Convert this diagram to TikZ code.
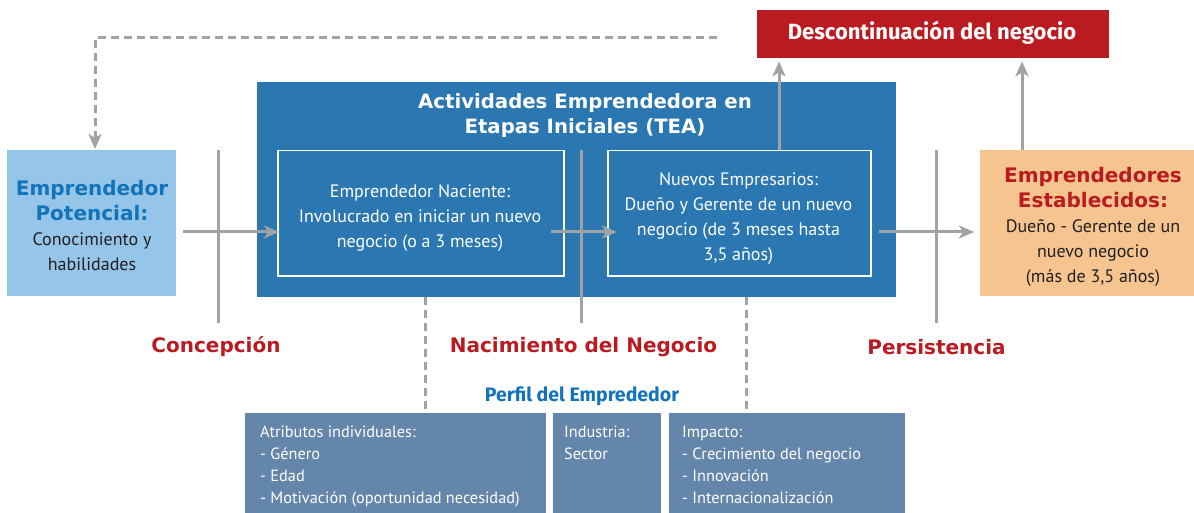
\documentclass[tikz,border=0pt]{standalone}
\usepackage{fontspec}
\setmainfont{PT Sans}
\newfontfamily\headfont{Fira Sans}
\newfontfamily\wideboldfont{DejaVu Sans}
\usetikzlibrary{arrows.meta}
\definecolor{teablue}{HTML}{2B77B1}
\definecolor{lightblue}{HTML}{95C6E9}
\definecolor{estorange}{HTML}{F6C48F}
\definecolor{darkred}{HTML}{BA1B21}
\definecolor{linegray}{HTML}{A0A3A4}
\definecolor{slate}{HTML}{6586AB}
\definecolor{textblue}{HTML}{1272BA}
\definecolor{darktext}{HTML}{231F20}
\newcommand\wbold{\wideboldfont\bfseries\fontsize{20}{25}\selectfont}
\tikzset{
  box/.style={anchor=north west, inner sep=0pt, align=center},
  widehead/.style={font=\wbold},
  body/.style={font=\fontsize{18}{25}\selectfont},
  small/.style={font=\fontsize{16.3}{22}\selectfont},
  gline/.style={draw=linegray, line width=3pt},
  tip/.style={-{Stealth[length=15pt,width=13pt,inset=4pt]}},
  arr/.style={gline, tip},
  dashline/.style={draw=linegray, line width=3pt, dash pattern=on 8pt off 5pt},
  stage/.style={text=darkred, widehead},
  slatebox/.style={fill=slate, anchor=north west, inner sep=0pt, minimum height=100pt},
  slatetext/.style={anchor=west, text=white, align=left, small, inner sep=0pt}
}
\begin{document}
\begin{tikzpicture}[x=1pt,y=-1pt]
\useasboundingbox (0,0) rectangle (1194,513);

% potential entrepreneur
\node[box, fill=lightblue, minimum width=169pt, minimum height=146pt] (pot) at (7,150) {};
\node[align=center, text=darktext, body] (pottext) at (92,226) {\textcolor{textblue}{\wbold Emprendedor}\\ \textcolor{textblue}{\wbold Potencial:}\\ Conocimiento y\\ habilidades};

% TEA
\node[box, fill=teablue, minimum width=639pt, minimum height=215pt] (tea) at (257,82) {};
\node[align=center, text=white, widehead, font=\wideboldfont\bfseries\fontsize{19.7}{25}\selectfont] (teatitle) at (585,115.5) {Actividades Emprendedora en\\ Etapas Iniciales (TEA)};

\node[box, draw=white, line width=1.5pt, minimum width=286pt, minimum height=125pt] (nac) at (277,150) {};
\node[align=center, text=white, body] (nactext) at (420,218) {Emprendedor Naciente:\\ Involucrado en iniciar un nuevo\\ negocio (o a 3 meses)};

\node[box, draw=white, line width=1.5pt, minimum width=263pt, minimum height=125pt] (new) at (607,150) {};
\node[align=center, text=white, body] (newtext) at (738.5,219) {Nuevos Empresarios:\\ Dueño y Gerente de un nuevo\\ negocio (de 3 meses hasta\\ 3,5 años)};

% established
\node[box, fill=estorange, minimum width=225pt, minimum height=146pt] (est) at (980,150) {};
\node[align=center, text=darktext, body] (esttext) at (1093,227) {\textcolor{darkred}{\wbold Emprendedores}\\ \textcolor{darkred}{\wbold Establecidos:}\\ Dueño - Gerente de un\\ nuevo negocio\\ (más de 3,5 años)};

% discontinuation
\node[box, fill=darkred, minimum width=352pt, minimum height=48pt] (desc) at (757,10) {};
\node[text=white, font=\headfont\bfseries\fontsize{22}{25}\selectfont] (desctext) at (932,33) {Descontinuación del negocio};

% divider lines
\coordinate (d1t) at (218,150); \coordinate (d1b) at (218,323);
\coordinate (d2t) at (581,150); \coordinate (d2b) at (581,323);
\coordinate (d3t) at (936,150); \coordinate (d3b) at (936,323);
\draw[gline] (d1t) -- (d1b);
\draw[gline] (d2t) -- (d2b);
\draw[gline] (d3t) -- (d3b);

% horizontal arrows
\coordinate (mid) at (0,232);
\draw[arr, shorten <=7pt, shorten >=-2pt] (pot.east |- mid) -- (nac.west |- mid);
\draw[arr, shorten <=-14pt, shorten >=-10pt] (nac.east |- mid) -- (new.west |- mid);
\draw[arr, shorten <=7pt, shorten >=6pt] (new.east |- mid) -- (est.west |- mid);

% up arrows
\coordinate (u1) at (779,0);
\coordinate (u2) at (1022,0);
\draw[arr, shorten >=3pt] (new.north -| u1) -- (desc.south -| u1);
\draw[arr, shorten >=3pt] (est.north -| u2) -- (desc.south -| u2);

% feedback dashed
\coordinate (fb) at (717,38);
\coordinate (fbx) at (95,0);
\draw[dashline, tip, shorten >=1pt] (fb) -| (pot.north -| fbx);

% stage labels
\node[stage] (conc) at (216,347) {Concepción};
\node[stage] (naci) at (583.5,347) {Nacimiento del Negocio};
\node[stage] (pers) at (936.5,347) {Persistencia};

\node[text=textblue, font=\headfont\bfseries\fontsize{19.5}{22}\selectfont] (perfil) at (582,396) {Perfil del Emprededor};

% bottom boxes
\node[slatebox, minimum width=301pt] (attr) at (245,413) {};
\node[slatetext, anchor=north west] (attrtext) at (260,426) {Atributos individuales:\\ - Género\\ - Edad\\ - Motivación (oportunidad necesidad)};
\node[slatebox, minimum width=108pt] (ind) at (553,413) {};
\node[slatetext, anchor=north west] (indtext) at (564,426) {Industria:\\ Sector};
\node[slatebox, minimum width=236pt] (imp) at (669,413) {};
\node[slatetext, anchor=north west] (imptext) at (682,426) {Impacto:\\ - Crecimiento del negocio\\ - Innovación\\ - Internacionalización};

% dashed connectors
\coordinate (v1) at (425,0);
\coordinate (v2) at (746,0);
\draw[dashline] (tea.south -| v1) -- (attr.north -| v1);
\draw[dashline] (tea.south -| v2) -- (imp.north -| v2);
\end{tikzpicture}
\end{document}
